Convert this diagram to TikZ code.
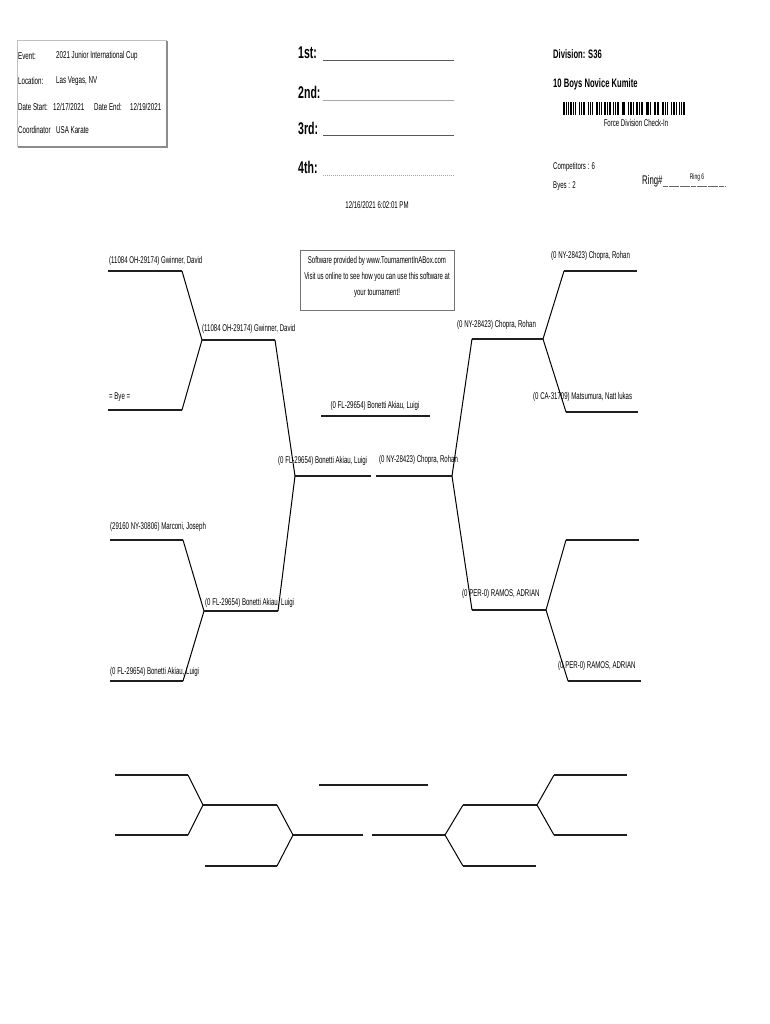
\documentclass[tikz,border=0pt]{standalone}
\usepackage{fontspec}
\setmainfont{Liberation Sans}[FakeStretch=0.62]
\begin{document}
\begin{tikzpicture}[x=1pt,y=-1pt,
  hline/.style={line width=2.3pt,draw=black!88},
  dline/.style={line width=1pt,draw=black},
  nm/.style={anchor=west,inner sep=0pt,font=\fontsize{9.8}{11}\selectfont},
  nmc/.style={anchor=center,inner sep=0pt,font=\fontsize{9.8}{11}\selectfont},
  hd/.style={anchor=west,inner sep=0pt,font=\fontsize{10}{12}\selectfont},
  placelbl/.style={anchor=west,inner sep=0pt,font=\bfseries\fontsize{17}{19}\selectfont},
  divlbl/.style={anchor=west,inner sep=0pt,font=\bfseries\fontsize{12.3}{14}\selectfont},
  plline/.style={line width=1pt},
]
\useasboundingbox[fill=white] (0,0) rectangle (770,1024);

% ---------- header box ----------
\draw[black!25,line width=0.6pt] (17,40) rectangle (166,146);
\draw[black!45,line width=2pt] (166.5,41) -- (166.5,147) -- (18,147);
\node[hd] (ev)  at (18,56)  {Event:};
\node[hd] (evv) at (56,56)  {2021 Junior International Cup};
\node[hd] (loc) at (18,81)  {Location:};
\node[hd] (locv) at (56,81) {Las Vegas, NV};
\node[hd] (ds)  at (18,107) {Date Start:};
\node[hd] (dsv) at (53,107) {12/17/2021};
\node[hd] (de)  at (94,107) {Date End:};
\node[hd] (dev) at (130,107) {12/19/2021};
\node[hd] (co)  at (18,130) {Coordinator};
\node[hd] (cov) at (56,130) {USA Karate};

% ---------- places ----------
\node[placelbl] (p1) at (298,53)  {1st:};
\node[placelbl] (p2) at (298,92)  {2nd:};
\node[placelbl] (p3) at (298,128) {3rd:};
\node[placelbl] (p4) at (298,167) {4th:};
\coordinate (p1a) at (323,61);  \coordinate (p1b) at (454,61);
\coordinate (p2a) at (323,101); \coordinate (p2b) at (454,101);
\coordinate (p3a) at (323,136); \coordinate (p3b) at (454,136);
\coordinate (p4a) at (323,176); \coordinate (p4b) at (454,176);
\draw[plline,black!65] (p1a) -- (p1b);
\draw[plline,black!35] (p2a) -- (p2b);
\draw[plline,black!65] (p3a) -- (p3b);
\draw[plline,black!35,densely dotted] (p4a) -- (p4b);
\node[nmc] (stamp) at (377,205) {12/16/2021 6:02:01 PM};

% ---------- division ----------
\node[divlbl] (div) at (553,54) {Division: S36};
\node[divlbl] (cat) at (553,84) {10 Boys Novice Kumite};
\gdef\bx{563}
\foreach \b/\g in {2/1,1/1,1/2,2/1,1/1,1/3,2/1,1/1,2/3,1/1,2/1,1/3,2/1,1/1,1/3,2/1,1/1,2/3,1/1,1/1,2/3,2/1,1/3,1/1,2/1,1/3,2/1,1/1,2/3,1/1,2/1,1/3,2/1,1/1,1/3,2/1,1/1,2/3,1/1,2/1,1/2,2/1,1/1,2/0}{
  \fill[black] (\bx,102) rectangle ++(\b*0.917,13);
  \pgfmathsetmacro\nx{\bx+(\b+\g)*0.917}
  \xdef\bx{\nx}
}
\node[nmc] (force) at (636,123) {Force Division Check-In};
\node[nm] (comp) at (553,167) {Competitors : 6};
\node[nm] (byes) at (553,186) {Byes : 2};
\node[anchor=west,inner sep=0pt,font=\fontsize{12.5}{14}\selectfont] (ring) at (642,181) {Ring\#};
\coordinate (rl1) at (663,186); \coordinate (rl2) at (725,186);
\draw[black!60,line width=0.8pt,dash pattern=on 5pt off 0.6pt] (rl1) -- (rl2);
\node[nmc,font=\fontsize{8}{9}\selectfont] (ringv) at (697,177) {Ring 6};

% ---------- software box ----------
\node[draw=black!55,line width=0.7pt,minimum width=154pt,minimum height=60pt,inner sep=0pt] (soft) at (377,280) {};
\node[nmc] (s1) at (377,261) {Software provided by www.TournamentInABox.com};
\node[nmc] (s2) at (377,277) {Visit us online to see how you can use this software at};
\node[nmc] (s3) at (377,293) {your tournament!};

% ---------- bracket coordinates ----------
\coordinate (L1a) at (108,271); \coordinate (L1b) at (182,271);
\coordinate (J1) at (202,340);  \coordinate (L2b) at (275,340);
\coordinate (L3a) at (108,410); \coordinate (L3b) at (182,410);
\coordinate (L4a) at (110,540); \coordinate (L4b) at (183,540);
\coordinate (J2) at (204,611);  \coordinate (L5b) at (278,611);
\coordinate (L6a) at (110,681); \coordinate (L6b) at (183,681);
\coordinate (S1a) at (295,476); \coordinate (S1b) at (371,476);
\coordinate (S2a) at (376,476); \coordinate (S2b) at (452,476);
\coordinate (F1) at (321,416);  \coordinate (F2) at (430,416);
\coordinate (R1a) at (564,271); \coordinate (R1b) at (637,271);
\coordinate (RJ1) at (543,339); \coordinate (R2a) at (472,339);
\coordinate (R3a) at (566,412); \coordinate (R3b) at (638,412);
\coordinate (R4a) at (566,540); \coordinate (R4b) at (639,540);
\coordinate (RJ2) at (546,610); \coordinate (R5a) at (472,610);
\coordinate (R6a) at (568,681); \coordinate (R6b) at (641,681);

% left half
\draw[hline] (L1a) -- (L1b);
\draw[dline] (L1b) -- (J1);
\draw[hline] (L3a) -- (L3b);
\draw[dline] (L3b) -- (J1);
\draw[hline] (J1) -- (L2b);
\draw[dline] (L2b) -- (S1a);
\draw[hline] (L4a) -- (L4b);
\draw[dline] (L4b) -- (J2);
\draw[hline] (L6a) -- (L6b);
\draw[dline] (L6b) -- (J2);
\draw[hline] (J2) -- (L5b);
\draw[dline] (L5b) -- (S1a);
\draw[hline] (S1a) -- (S1b);
% right half
\draw[hline] (R1a) -- (R1b);
\draw[dline] (R1a) -- (RJ1);
\draw[hline] (R3a) -- (R3b);
\draw[dline] (R3a) -- (RJ1);
\draw[hline] (R2a) -- (RJ1);
\draw[dline] (R2a) -- (S2b);
\draw[hline] (R4a) -- (R4b);
\draw[dline] (R4a) -- (RJ2);
\draw[hline] (R6a) -- (R6b);
\draw[dline] (R6a) -- (RJ2);
\draw[hline] (R5a) -- (RJ2);
\draw[dline] (R5a) -- (S2b);
\draw[hline] (S2a) -- (S2b);
% final
\draw[hline] (F1) -- (F2);

% names
\node[nm] (n1) at (109,261) {(11084 OH-29174) Gwinner, David};
\node[nm] (n2) at (109,397) {= Bye =};
\node[nm] (n3) at (202,329) {(11084 OH-29174) Gwinner, David};
\node[nm] (n4) at (110,527) {(29160 NY-30806) Marconi, Joseph};
\node[nm] (n5) at (205,603) {(0 FL-29654) Bonetti Akiau, Luigi};
\node[nm] (n6) at (110,672) {(0 FL-29654) Bonetti Akiau, Luigi};
\node[nm] (n7) at (278,461) {(0 FL-29654) Bonetti Akiau, Luigi};
\node[nm] (n8) at (379,460) {(0 NY-28423) Chopra, Rohan};
\node[nmc] (n9) at (375,406) {(0 FL-29654) Bonetti Akiau, Luigi};
\node[nm] (n10) at (551,256) {(0 NY-28423) Chopra, Rohan};
\node[nm] (n11) at (457,325) {(0 NY-28423) Chopra, Rohan};
\node[nm] (n12) at (533,397) {(0 CA-31709) Matsumura, Natt lukas};
\node[nm] (n13) at (462,594) {(0 PER-0) RAMOS, ADRIAN};
\node[nm] (n14) at (558,666) {(0 PER-0) RAMOS, ADRIAN};

% ---------- blank bracket ----------
\coordinate (BL1a) at (115,775); \coordinate (BL1b) at (188,775);
\coordinate (BJ1) at (203,805);  \coordinate (BL2b) at (277,805);
\coordinate (BL3a) at (115,835); \coordinate (BL3b) at (188,835);
\coordinate (BJ2) at (293,835);  \coordinate (BL4b) at (363,835);
\coordinate (BL5a) at (205,866); \coordinate (BL5b) at (277,866);
\coordinate (BF1) at (319,785);  \coordinate (BF2) at (428,785);
\coordinate (BR4a) at (372,835); \coordinate (BRJ2) at (445,835);
\coordinate (BR2a) at (463,805); \coordinate (BRJ1) at (537,805);
\coordinate (BR1a) at (554,775); \coordinate (BR1b) at (627,775);
\coordinate (BR3a) at (554,835); \coordinate (BR3b) at (627,835);
\coordinate (BR5a) at (463,866); \coordinate (BR5b) at (536,866);
\draw[hline] (BL1a) -- (BL1b);
\draw[dline] (BL1b) -- (BJ1);
\draw[hline] (BL3a) -- (BL3b);
\draw[dline] (BL3b) -- (BJ1);
\draw[hline] (BJ1) -- (BL2b);
\draw[dline] (BL2b) -- (BJ2);
\draw[hline] (BL5a) -- (BL5b);
\draw[dline] (BL5b) -- (BJ2);
\draw[hline] (BJ2) -- (BL4b);
\draw[hline] (BF1) -- (BF2);
\draw[hline] (BR4a) -- (BRJ2);
\draw[dline] (BRJ2) -- (BR2a);
\draw[dline] (BRJ2) -- (BR5a);
\draw[hline] (BR5a) -- (BR5b);
\draw[hline] (BR2a) -- (BRJ1);
\draw[dline] (BRJ1) -- (BR1a);
\draw[dline] (BRJ1) -- (BR3a);
\draw[hline] (BR1a) -- (BR1b);
\draw[hline] (BR3a) -- (BR3b);
\end{tikzpicture}
\end{document}
